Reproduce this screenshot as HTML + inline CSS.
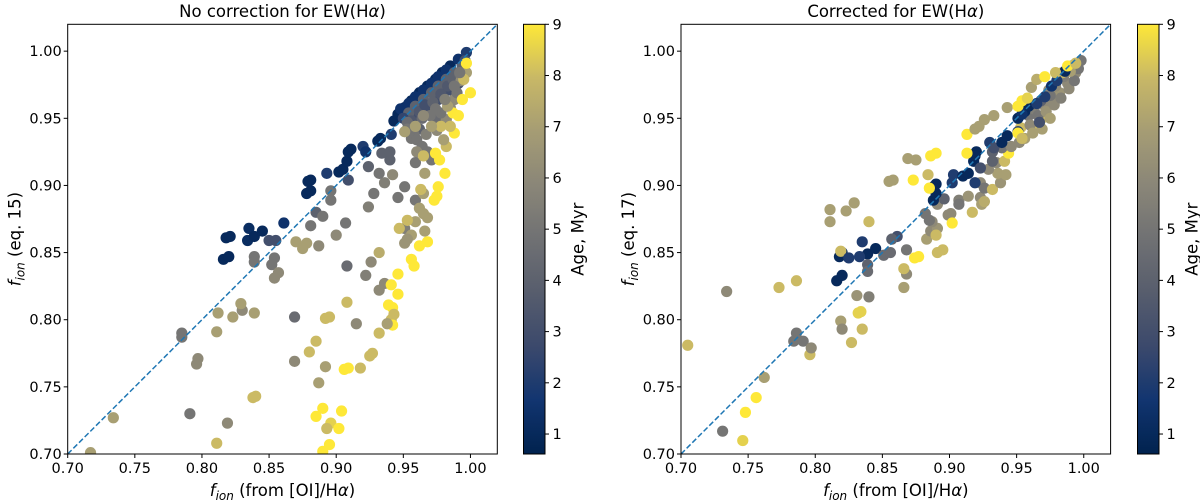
<!DOCTYPE html>
<html><head><meta charset="utf-8"><style>
body{margin:0;background:#fff}
svg{display:block;font-family:"DejaVu Sans","Liberation Sans",sans-serif}
</style></head><body>
<svg id="fig" width="1200" height="503" viewBox="0 0 1200 503">
<defs>
<linearGradient id="cbg" x1="0" y1="1" x2="0" y2="0"></linearGradient>
</defs>
</svg>
<script>
// Left panel data: [x, y, age]
const leftPoints = [
[0.816,0.845,1],[0.820,0.847,1],[0.818,0.861,1],[0.821,0.862,1],[0.835,0.868,1.2],[0.834,0.859,1.2],[0.839,0.862,1],[0.845,0.866,1],[0.861,0.872,1.5],[0.850,0.859,3],[0.855,0.859,3],
[0.878,0.894,1],[0.881,0.896,1],[0.879,0.903,1],[0.881,0.904,1],[0.893,0.909,2],[0.902,0.910,1],[0.905,0.912,1],[0.908,0.918,1],[0.909,0.925,1],[0.911,0.927,1],[0.920,0.929,2],[0.922,0.925,1.5],[0.931,0.933,1],[0.933,0.935,1],[0.941,0.938,2],[0.943,0.948,1],[0.946,0.953,1],[0.951,0.958,1],[0.956,0.963,1],[0.962,0.969,1],[0.968,0.974,1],[0.974,0.979,1],[0.979,0.984,1],[0.985,0.989,1],[0.991,0.994,1.5],[0.997,0.999,2],
[0.948,0.957,1.5],[0.954,0.961,1.5],[0.959,0.966,1.5],[0.965,0.971,1.5],[0.971,0.976,1.5],[0.976,0.981,1.5],[0.982,0.986,1.5],
[0.959,0.952,3],[0.968,0.957,3],[0.976,0.964,3],[0.985,0.971,3],[0.991,0.976,3],[0.962,0.942,4],[0.974,0.949,4.5],[0.982,0.949,6],[0.988,0.964,6],
[0.954,0.954,4],[0.959,0.959,4],[0.965,0.964,4],[0.971,0.969,4],[0.976,0.974,4],[0.982,0.979,4],[0.988,0.984,4],[0.994,0.989,4],
[0.950,0.950,2.5],[0.956,0.948,3.5],[0.962,0.955,3.5],[0.966,0.960,3],[0.972,0.962,4],[0.978,0.968,3.5],[0.983,0.974,3.5],[0.987,0.979,4],[0.992,0.983,4.5],[0.996,0.993,3],[0.958,0.938,5],[0.967,0.938,5.5],[0.972,0.944,5],[0.978,0.954,5],[0.985,0.958,6],[0.990,0.969,5],[0.993,0.978,6],[0.997,0.984,7],[0.953,0.947,4.5],[0.964,0.950,4.5],[0.970,0.952,5],[0.975,0.941,6],
[0.909,0.904,3],[0.896,0.896,5],[0.896,0.889,5],[0.885,0.880,4],[0.890,0.877,5],[0.881,0.870,5],[0.907,0.872,5],[0.900,0.863,6],[0.887,0.855,6],[0.870,0.858,7],[0.878,0.857,7],[0.875,0.853,7],
[0.839,0.847,5],[0.839,0.843,5],[0.854,0.846,5],[0.852,0.841,5],[0.857,0.835,6],[0.854,0.831,6],[0.908,0.840,4.5],[0.922,0.833,5.5],[0.926,0.843,6],[0.932,0.850,7.5],[0.936,0.827,6],[0.932,0.822,6],
[0.951,0.868,5.5],[0.951,0.857,6.5],[0.946,0.891,5],[0.951,0.899,5],[0.959,0.889,5],[0.924,0.884,5.5],[0.928,0.894,5],[0.936,0.902,5.5],[0.932,0.909,5],[0.942,0.908,6],[0.924,0.914,4],[0.940,0.919,4],[0.934,0.924,4],[0.940,0.925,4],
[0.953,0.942,5],[0.956,0.935,5],[0.960,0.934,5],[0.964,0.929,5],[0.960,0.925,6],[0.959,0.917,5],[0.968,0.925,5],[0.971,0.919,5],[0.966,0.909,7],[0.965,0.894,7],[0.963,0.897,8],[0.962,0.883,7],[0.965,0.879,7],[0.968,0.876,7],[0.959,0.873,7],[0.966,0.866,7],[0.953,0.874,8],[0.947,0.868,8],[0.956,0.863,7],[0.953,0.860,6.5],
[0.962,0.855,9],[0.956,0.845,9],[0.958,0.840,9],[0.946,0.834,9],[0.941,0.826,9],[0.946,0.819,9],[0.939,0.811,9],[0.942,0.809,9],[0.943,0.804,8],[0.941,0.800,8],[0.942,0.796,9],[0.938,0.797,7],[0.932,0.790,8],
[0.908,0.813,8],[0.915,0.797,6],[0.895,0.802,8],[0.892,0.801,8],[0.885,0.784,8],[0.880,0.776,8],[0.892,0.765,7],[0.887,0.753,7],[0.909,0.764,9],[0.906,0.763,9],[0.918,0.764,8],[0.925,0.773,8],[0.927,0.775,8],
[0.869,0.769,6],[0.869,0.802,4.5],[0.830,0.807,6],[0.829,0.812,7],[0.823,0.802,7],[0.812,0.805,7],[0.839,0.805,7],[0.811,0.791,7],[0.785,0.790,5],[0.785,0.787,5],[0.797,0.771,6],[0.796,0.767,6],[0.838,0.742,8],[0.840,0.743,8],[0.791,0.730,5],[0.819,0.723,6],[0.811,0.708,8],[0.734,0.727,7],[0.717,0.701,7],
[0.890,0.734,9],[0.885,0.728,9],[0.904,0.732,9],[0.896,0.723,8.5],[0.893,0.719,8],[0.902,0.719,9],[0.895,0.707,9],[0.890,0.702,9],
[0.968,0.858,9],[0.976,0.899,9],[0.975,0.892,9],[0.973,0.889,9],[0.981,0.909,9],[0.977,0.919,9],[0.974,0.924,9],[0.965,0.922,8],[0.982,0.929,8],[0.988,0.939,9],[0.985,0.944,8],[0.991,0.952,9],[0.987,0.954,9],[0.994,0.964,9],[1.000,0.969,9],[0.995,0.979,8],[0.997,0.991,9],
[0.983,0.959,7],[0.978,0.944,8],[0.980,0.934,7],[0.971,0.944,7],[0.959,0.944,7],[0.951,0.940,7],[0.965,0.952,6],[0.974,0.957,5],[0.981,0.964,5.5],[0.988,0.974,5],[0.992,0.984,5]
];
// Right panel data: [x, y, age]
const rightPoints = [
[0.705,0.781,8],[0.734,0.821,6],[0.731,0.717,5],[0.746,0.710,8.5],[0.748,0.731,9],[0.756,0.742,9],[0.762,0.757,7],[0.773,0.824,8],[0.786,0.829,8],[0.786,0.790,5],[0.784,0.784,5],[0.791,0.784,5],[0.796,0.774,8],[0.797,0.779,6],
[0.811,0.882,7],[0.811,0.873,7],[0.823,0.881,7],[0.829,0.887,7],[0.840,0.873,8],[0.819,0.799,7],[0.820,0.793,6],[0.831,0.818,6.5],[0.840,0.817,5.5],[0.832,0.805,8.5],[0.834,0.806,8.5],[0.835,0.793,8],[0.827,0.783,8],
[0.816,0.829,1],[0.820,0.833,1],[0.818,0.847,1],[0.820,0.850,1],[0.819,0.851,8],[0.825,0.846,2],[0.835,0.858,2],[0.839,0.849,1],[0.845,0.853,1],[0.833,0.847,2],[0.839,0.841,4],[0.839,0.836,4.5],[0.851,0.848,4.5],[0.856,0.850,4.5],[0.861,0.862,3],[0.857,0.860,4],
[0.868,0.852,5],[0.868,0.834,6],[0.866,0.824,7],[0.866,0.838,8],[0.877,0.847,9],[0.874,0.846,9],[0.883,0.860,7],[0.886,0.866,6],[0.891,0.868,6.5],[0.890,0.863,8],[0.891,0.850,8],[0.895,0.852,8],[0.887,0.873,6],[0.882,0.879,5],[0.885,0.874,5],[0.891,0.886,6],[0.896,0.890,4],[0.901,0.879,6],[0.899,0.878,6],[0.902,0.872,9],
[0.907,0.889,5.5],[0.907,0.886,5],[0.914,0.892,6.5],[0.917,0.880,8],[0.923,0.891,6],[0.924,0.886,7],[0.926,0.888,7.5],[0.923,0.902,6],[0.926,0.898,5],[0.932,0.897,8],[0.938,0.902,6.5],[0.936,0.909,7],[0.942,0.908,7],[0.929,0.912,6],[0.935,0.917,6],[0.941,0.918,8],[0.944,0.924,9],[0.932,0.925,4],[0.939,0.928,5],[0.946,0.929,6],[0.952,0.932,6],[0.956,0.935,7],[0.953,0.943,8],[0.965,0.944,8],[0.968,0.949,8],
[0.959,0.952,5],[0.963,0.957,5.5],[0.971,0.959,6],[0.976,0.964,6],[0.982,0.969,6.5],[0.988,0.976,6],[0.994,0.984,6],[0.998,0.993,5],[0.991,0.989,5],[0.985,0.981,5.5],[0.974,0.971,6],[0.979,0.974,6],
[0.960,0.945,6],[0.966,0.952,5],[0.972,0.955,6.5],[0.978,0.960,6],[0.983,0.965,5.5],[0.989,0.972,6],[0.993,0.978,5],[0.996,0.987,5],[0.962,0.939,7],[0.969,0.942,7],[0.975,0.950,7],[0.980,0.978,7],[0.984,0.984,8],[0.990,0.985,7],[0.975,0.967,5],[0.968,0.963,4],
[0.888,0.889,1],[0.890,0.894,1],[0.890,0.901,1],[0.888,0.899,1],[0.902,0.902,2],[0.903,0.908,2],[0.910,0.907,1],[0.914,0.909,1],[0.919,0.902,2],[0.918,0.918,1],[0.920,0.925,1],[0.919,0.922,1],[0.923,0.913,3],[0.930,0.932,2],[0.933,0.928,3],[0.932,0.918,4],[0.939,0.932,1],[0.943,0.937,1],[0.951,0.940,2],[0.951,0.950,1],[0.956,0.955,1],[0.959,0.959,1],[0.954,0.953,1.5],[0.965,0.961,2],[0.967,0.947,3],[0.971,0.966,2],[0.976,0.974,1.5],[0.980,0.978,2],[0.986,0.985,1],
[0.913,0.938,9],[0.919,0.942,7],[0.922,0.944,7],[0.926,0.949,7],[0.933,0.952,7],[0.943,0.958,7],[0.951,0.959,9],[0.954,0.963,9],[0.958,0.965,8.5],[0.961,0.973,7],[0.965,0.979,7.5],[0.971,0.981,9],[0.979,0.984,8],[0.988,0.989,9],[0.994,0.991,8],
[0.869,0.920,7],[0.875,0.919,7],[0.886,0.922,9],[0.890,0.924,9],[0.913,0.924,9],[0.884,0.908,8],[0.873,0.904,9],[0.855,0.903,7],[0.858,0.904,7],[0.885,0.898,9],[0.951,0.939,9],[0.954,0.935,8]
];
const xTicks = [0.70,0.75,0.80,0.85,0.90,0.95,1.00];
const yTicks = [0.70,0.75,0.80,0.85,0.90,0.95,1.00];
const cbTicks = [1,2,3,4,5,6,7,8,9];

const NS='http://www.w3.org/2000/svg';
const svg=document.getElementById('fig');
function mk(tag,attrs,parent){const e=document.createElementNS(NS,tag);for(const k in attrs)e.setAttribute(k,attrs[k]);(parent||svg).appendChild(e);return e;}
const AMIN=0.61, AMAX=9;
const cstops=[[0,'#00224e'],[0.125,'#123570'],[0.25,'#3b496c'],[0.375,'#575d6d'],[0.5,'#707173'],[0.625,'#8a8678'],[0.75,'#a59c74'],[0.875,'#c8b866'],[1,'#fee838']];
function hx(h){return [1,3,5].map(i=>parseInt(h.substr(i,2),16));}
function cmap(t){t=Math.max(0,Math.min(1,t));for(let i=1;i<cstops.length;i++){if(t<=cstops[i][0]){const a=cstops[i-1],b=cstops[i];const f=(t-a[0])/(b[0]-a[0]);const ca=hx(a[1]),cb=hx(b[1]);return 'rgb('+ca.map((v,j)=>Math.round(v+(cb[j]-v)*f)).join(',')+')';}}return cstops[cstops.length-1][1];}
const grad=document.getElementById('cbg');
for(let i=0;i<=40;i++){const t=i/40;mk('stop',{offset:t,'stop-color':cmap(t)},grad);}

function panel(ox,pts,title,ylab,cbx,name){
  const L=ox, R=ox+429.6, T=24.3, B=454;
  const sx=v=>L+(v-0.70)/0.32*(R-L);
  const sy=v=>B-(v-0.70)/0.32*(B-T);
  const g=mk('g',{});
  
  
  const clipId='clip'+name;
  const cp=mk('clipPath',{id:clipId},g);mk('rect',{x:L,y:T,width:R-L,height:B-T},cp);
  const pg=mk('g',{'clip-path':'url(#'+clipId+')'},g);
  
  
  pts.forEach(p=>{const c=mk('circle',{cx:sx(p[0]),cy:sy(p[1]),r:5.6,fill:cmap((p[2]-AMIN)/(AMAX-AMIN))},pg);
    
    });
  const ln=mk('line',{x1:sx(0.70),y1:sy(0.70),x2:sx(1.02),y2:sy(1.02),stroke:'#1f77b4','stroke-width':1.5,'stroke-dasharray':'5.5,2.5'},pg);
  
  
  const fr=mk('rect',{x:L,y:T,width:R-L,height:B-T,fill:'none',stroke:'#000','stroke-width':1},g);
  
  
  xTicks.forEach(v=>{const x=sx(v);mk('line',{x1:x,y1:B,x2:x,y2:B+4,stroke:'#000'},g);
    const t=mk('text',{x:x,y:B+19,'font-size':14.5,'text-anchor':'middle'},g);t.textContent=v.toFixed(2);
    
    });
  yTicks.forEach(v=>{const y=sy(v);mk('line',{x1:L-4,y1:y,x2:L,y2:y,stroke:'#000'},g);
    const t=mk('text',{x:L-6,y:y+5,'font-size':14.5,'text-anchor':'end'},g);t.textContent=v.toFixed(2);
    
    });
  const tt=mk('text',{x:(L+R)/2,y:17,'font-size':16.5,'text-anchor':'middle'},g);
  tt.innerHTML=title+' EW(H<tspan font-style="italic">α</tspan>)';
  
  
  const xl=mk('text',{x:(L+R)/2,y:496,'font-size':16.5,'text-anchor':'middle'},g);
  xl.innerHTML='<tspan font-style="italic">f</tspan><tspan font-style="italic" font-size="12" dy="4">ion</tspan><tspan dy="-4"> (from [OI]/H</tspan><tspan font-style="italic">α</tspan>)';
  
  
  const yl=mk('text',{x:0,y:0,'font-size':16.5,'text-anchor':'middle',transform:'translate('+(L-47)+','+((T+B)/2)+') rotate(-90)'},g);
  yl.innerHTML='<tspan font-style="italic">f</tspan><tspan font-style="italic" font-size="12" dy="4">ion</tspan><tspan dy="-4"> '+ylab+'</tspan>';
  
  
  const cb=mk('g',{},g);
  
  
  mk('rect',{x:cbx,y:T,width:21.5,height:B-T,fill:'url(#cbg)',stroke:'#000','stroke-width':1},cb);
  const cy=v=>B-(v-AMIN)/(AMAX-AMIN)*(B-T);
  cbTicks.forEach(v=>{const y=cy(v);mk('line',{x1:cbx+21.5,y1:y,x2:cbx+25.5,y2:y,stroke:'#000'},cb);
    const t=mk('text',{x:cbx+29,y:y+5,'font-size':14.5},cb);t.textContent=v;
    
    });
  const cl=mk('text',{x:0,y:0,'font-size':16.5,'text-anchor':'middle',transform:'translate('+(cbx+60)+','+((T+B)/2)+') rotate(-90)'},cb);
  cl.textContent='Age, Myr';
  
  
}
panel(67.7,leftPoints,'No correction for','(eq. 15)',523.5,'left-panel');
panel(681,rightPoints,'Corrected for','(eq. 17)',1137.5,'right-panel');
</script>
</body></html>
